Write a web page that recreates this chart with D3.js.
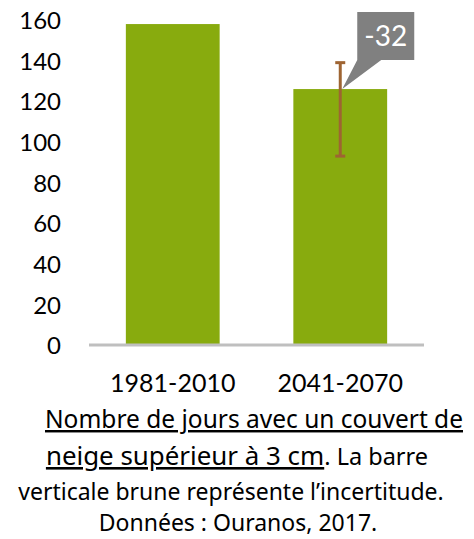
<!DOCTYPE html>
<html>
<head>
<meta charset="utf-8">
<title>Couvert de neige</title>
<style>
  body { margin: 0; background: #fff; }
  svg { display: block; }
  .tick text { font-family: Lato, "Open Sans", sans-serif; }
  .caption { font-family: "Noto Sans", "Open Sans", sans-serif; fill: #000; }
</style>
</head>
<body>
<svg id="chart"></svg>
<script src="https://d3js.org/d3.v7.min.js"></script>
<script>
    // data
    const periods = ["1981-2010", "2041-2070"];
    const days = [158, 126];
    const errLow = [null, 93];
    const errHigh = [null, 139];
    const changeLabel = [null, "-32"];
    const yTicks = [0, 20, 40, 60, 80, 100, 120, 140, 160];

    const svgWidth = 474, svgHeight = 539;
    const margin = {top: 20, left: 89, right: 50};
    const plotBottom = 345;

    const svg = d3.select("#chart")
        .attr("width", svgWidth)
        .attr("height", svgHeight);

    const x = d3.scaleBand()
        .domain(periods)
        .range([margin.left, svgWidth - margin.right])
        .paddingInner(0.44)
        .paddingOuter(0.22);
    const y = d3.scaleLinear().domain([0, 160]).range([plotBottom, margin.top]);

    // y axis (labels only)
    const yAxis = svg.append("g")
        .attr("transform", "translate(" + (margin.left - 28) + ",0)")
        .call(d3.axisLeft(y).tickValues(yTicks).tickSize(0).tickPadding(0));
    yAxis.select(".domain").remove();
    yAxis.selectAll("text").attr("font-size", 24).attr("fill", "#000").attr("dy", "0.36em");

    // bars
    svg.selectAll(".bar")
        .data(periods)
        .enter().append("rect")
        .attr("class", "bar")
        .attr("x", d => x(d))
        .attr("width", x.bandwidth())
        .attr("y", (d, i) => y(days[i]))
        .attr("height", (d, i) => y(0) - y(days[i]))
        .attr("fill", "#88AB0E");

    // baseline
    svg.append("line")
        .attr("x1", margin.left).attr("x2", svgWidth - margin.right)
        .attr("y1", y(0)).attr("y2", y(0))
        .attr("stroke", "#bfbfbf").attr("stroke-width", 3);

    // x axis labels
    const xAxis = svg.append("g")
        .attr("transform", "translate(0," + y(0) + ")")
        .call(d3.axisBottom(x).tickSize(0).tickPadding(47));
    xAxis.select(".domain").remove();
    xAxis.selectAll("text").attr("font-size", 25).attr("fill", "#000").attr("dy", 0);

    // callout with change value
    periods.forEach(function(p, i) {
        if (!changeLabel[i]) return;
        const cx = x(p) + x.bandwidth() / 2;
        const tipY = y(days[i]);
        const bx = cx + 17, by = 12, bw = 57, bh = 48;
        svg.append("path")
            .attr("d", "M" + bx + "," + by + " h" + bw + " v" + bh +
                " H" + (bx + 24) + " L" + (cx + 2) + "," + tipY +
                " L" + bx + "," + (by + bh) + " Z")
            .attr("fill", "#808080");
        svg.append("text")
            .attr("x", bx + bw / 2).attr("y", by + bh / 2)
            .attr("dy", "0.36em")
            .attr("text-anchor", "middle")
            .attr("font-family", "Lato, 'Open Sans', sans-serif")
            .attr("font-size", 28)
            .attr("fill", "#fff")
            .text(changeLabel[i]);
    });

    // error bars
    periods.forEach(function(p, i) {
        if (errLow[i] === null) return;
        const cx = x(p) + x.bandwidth() / 2;
        const g = svg.append("g").attr("stroke", "#9E6432").attr("stroke-width", 3);
        g.append("line").attr("x1", cx).attr("x2", cx).attr("y1", y(errLow[i])).attr("y2", y(errHigh[i]));
        g.append("line").attr("x1", cx - 5).attr("x2", cx + 5).attr("y1", y(errLow[i])).attr("y2", y(errLow[i]));
        g.append("line").attr("x1", cx - 5).attr("x2", cx + 5).attr("y1", y(errHigh[i])).attr("y2", y(errHigh[i]));
    });

    // caption
    svg.append("text").attr("class", "caption").attr("text-anchor", "middle")
        .attr("x", 254).attr("y", 428).attr("font-size", 24.5)
        .attr("text-decoration", "underline")
        .text("Nombre de jours avec un couvert de");
    const l2 = svg.append("text").attr("class", "caption").attr("text-anchor", "middle")
        .attr("x", 237).attr("y", 465);
    l2.append("tspan").attr("font-size", 25.9).attr("text-decoration", "underline")
        .text("neige supérieur à 3 cm");
    l2.append("tspan").attr("font-size", 23.5).text(". La barre");
    svg.append("text").attr("class", "caption").attr("text-anchor", "middle")
        .attr("x", 231).attr("y", 500).attr("font-size", 23)
        .text("verticale brune représente l’incertitude.");
    svg.append("text").attr("class", "caption").attr("text-anchor", "middle")
        .attr("x", 238).attr("y", 531).attr("font-size", 23)
        .text("Données : Ouranos, 2017.");
</script>
</body>
</html>
